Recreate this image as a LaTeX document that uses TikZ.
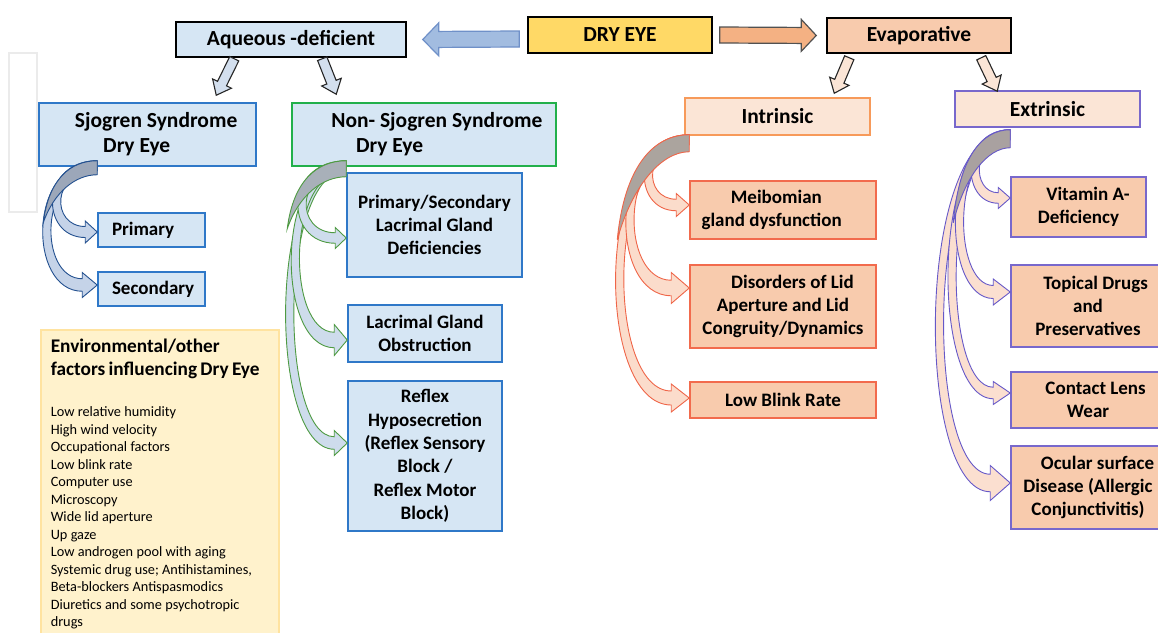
\documentclass[tikz,border=0pt]{standalone}
\usepackage{fontspec}
\setmainfont{Carlito}
\usetikzlibrary{calc}
\definecolor{bluefill}{HTML}{D6E6F4}
\definecolor{blueedge}{HTML}{2F78C8}
\definecolor{greenedge}{HTML}{22B04B}
\definecolor{goldfill}{HTML}{FFD966}
\definecolor{salmonfill}{HTML}{F8CBAD}
\definecolor{peachfill}{HTML}{FBE5D6}
\definecolor{orangeedge}{HTML}{F79A5A}
\definecolor{rededge}{HTML}{F26B4D}
\definecolor{purpleedge}{HTML}{7868CC}
\definecolor{envfill}{HTML}{FFF2CC}
\definecolor{envedge}{HTML}{FFE3A0}
\definecolor{arrowblue}{HTML}{A2BCE0}
\definecolor{arrowblueedge}{HTML}{6F90C8}
\definecolor{arrowsalmon}{HTML}{F4B183}
\definecolor{darkedge}{HTML}{262626}
\definecolor{downblue}{HTML}{D3DFEE}
\definecolor{sjofill}{HTML}{C5D3E8}
\definecolor{sjoline}{HTML}{23508F}
\definecolor{nsjfill}{HTML}{CEDCEC}
\definecolor{nsjline}{HTML}{4E9A42}
\definecolor{intrfill}{HTML}{FBDCCB}
\definecolor{intrline}{HTML}{EF6548}
\definecolor{extrfill}{HTML}{FBDFD0}
\definecolor{extrline}{HTML}{6658C8}
\definecolor{sjoback}{HTML}{9CA7B9}
\definecolor{nsjback}{HTML}{A8B0B9}
\definecolor{intrback}{HTML}{ABA49E}
\definecolor{extrback}{HTML}{A9A1A0}

% straight block arrow: [style]{tail}{tip}{shaft half}{head half}{head length}
\newcommand{\blockarrow}[6][]{%
  \path[#1] let \p1=(#2), \p2=(#3), \n1={atan2(\y2-\y1,\x2-\x1)}, \n2={veclen(\x2-\x1,\y2-\y1)-#6} in
    ($(\p1)+({\n1+90}:#4pt)$) -- ($(\p1)+(\n1:{\n2*1pt})+({\n1+90}:#4pt)$)
    -- ($(\p1)+(\n1:{\n2*1pt})+({\n1+90}:#5pt)$) -- (\p2)
    -- ($(\p1)+(\n1:{\n2*1pt})+({\n1-90}:#5pt)$) -- ($(\p1)+(\n1:{\n2*1pt})+({\n1-90}:#4pt)$)
    -- ($(\p1)+({\n1-90}:#4pt)$) -- cycle;}
% curved block arrow: [style]{root}{tip}{reach}{head half}{head length}
\newcommand{\bendarrow}[6][]{%
  \path[#1] let \p1=(#2), \p2=(#3), \n1={\x1-1.25*#4pt}, \n2={0.5*#5pt} in
    (\p1) .. controls ({\n1*1pt},\y1) and ({\n1*1pt},{\y2-\n2*1pt}) .. ({\x2-#6pt},{\y2-\n2*1pt})
    -- ({\x2-#6pt},{\y2-#5pt}) -- (\p2) -- ({\x2-#6pt},{\y2+#5pt}) -- ({\x2-#6pt},{\y2+\n2*1pt})
    .. controls ({\n1*1pt+11pt},{\y2+\n2*1pt}) and ({\n1*1pt+11pt},{\y1-10pt}) .. ($(\p1)+(0pt,-10pt)$) -- cycle;}
% shaded back of the curved arrows: [style]{root}{dx}{dy}{thickness}
\newcommand{\backface}[5][]{%
  \path[#1] let \p1=(#2) in
    (\p1) .. controls ({\x1-0.5*#3pt},\y1) and ({\x1-0.9*#3pt},{\y1-0.3*#4pt}) .. ({\x1-#3pt},{\y1-#4pt})
    .. controls ({\x1-0.8*#3pt},{\y1-0.5*#4pt}) and ({\x1-0.4*#3pt},{\y1-#5pt}) .. ($(\p1)+(0pt,-#5pt)$) -- cycle;}

\tikzset{
  box/.style={draw, line width=1.5pt, align=center, inner sep=2pt,
    font=\bfseries\fontsize{19}{23.3}\selectfont},
  headbox/.style={box, font=\bfseries\fontsize{21.5}{25}\selectfont},
  bluebox/.style={box, fill=bluefill, draw=blueedge},
  leftbox/.style={bluebox, minimum width=107pt, minimum height=34pt, text width=79pt, align=left, inner xsep=14pt},
  redbox/.style={box, fill=salmonfill, draw=rededge, minimum width=186pt},
  purplebox/.style={box, fill=salmonfill, draw=purpleedge, minimum width=154pt},
  envbox/.style={draw=envedge, fill=envfill, line width=1.5pt, anchor=north west, text width=218pt,
    align=left, inner xsep=10pt, inner ysep=9pt},
  ghost/.style={draw=black!8, line width=1.5pt},
  bigblue/.style={fill=arrowblue, draw=arrowblueedge, line width=1.2pt},
  bigsalmon/.style={fill=arrowsalmon, draw=darkedge!80, line width=1.2pt},
  downblue/.style={fill=downblue, draw=darkedge, line width=1.1pt},
  downpeach/.style={fill=peachfill, draw=darkedge, line width=1.1pt},
  sjoband/.style={fill=sjofill, draw=sjoline, line width=0.9pt},
  nsjband/.style={fill=nsjfill, draw=nsjline, line width=0.9pt},
  intrband/.style={fill=intrfill, draw=intrline, line width=0.9pt},
  extrband/.style={fill=extrfill, draw=extrline, line width=0.9pt}
}

\begin{document}
\begin{tikzpicture}[x=1pt, y=-1pt]
    \useasboundingbox (0,0) rectangle (1158,632);
    % Nodes
    \draw[ghost] (9,53) rectangle (37,212);
    \node[headbox, fill=bluefill, minimum width=230pt, minimum height=35pt] (aq) at (291,39.5) {Aqueous -deficient};
    \node[headbox, fill=goldfill, minimum width=184pt, minimum height=36pt] (dry) at (620,35) {DRY EYE};
    \node[headbox, fill=salmonfill, minimum width=184pt, minimum height=35pt] (evap) at (919,35.5) {Evaporative};
    \node[headbox, fill=bluefill, draw=blueedge, minimum width=217pt, minimum height=63pt] (sjo) at (147.5,134.5)
        {\hspace*{0.8em}Sjogren Syndrome\\Dry Eye\hspace*{1em}};
    \node[headbox, fill=bluefill, draw=greenedge, minimum width=264pt, minimum height=63pt] (nsj) at (424,134.5)
        {\hspace*{1.2em}Non- Sjogren Syndrome\\Dry Eye\hspace*{3.2em}};
    \node[leftbox] (prim) at (151.5,230) {Primary};
    \node[leftbox] (sec) at (151.5,289) {Secondary};
    \node[bluebox, minimum width=175pt, minimum height=104pt] (psl) at (434.5,225) {Primary/Secondary\\Lacrimal Gland\\Deficiencies};
    \node[bluebox, minimum width=154pt, minimum height=57pt] (lgo) at (425,333.5) {Lacrimal Gland\\Obstruction};
    \node[bluebox, minimum width=154pt, minimum height=150pt] (refl) at (425,456)
        {Reflex\\Hyposecretion\\(Reflex Sensory\\Block /\\Reflex Motor\\Block)};
    \node[headbox, fill=peachfill, draw=orangeedge, minimum width=185pt, minimum height=37pt] (intr) at (777.5,116.5) {Intrinsic};
    \node[headbox, fill=peachfill, draw=purpleedge, minimum width=185pt, minimum height=36pt] (extr) at (1047.5,109) {Extrinsic};
    \node[redbox, minimum height=58pt] (meib) at (783,210) {Meibomian\hspace*{0.7em}\\gland dysfunction\hspace*{1.2em}};
    \node[redbox, minimum height=83pt] (dis) at (783,306.5) {\hspace*{1em}Disorders of Lid\\Aperture and Lid\hspace*{1.5em}\\Congruity/Dynamics};
    \node[redbox, minimum height=36pt] (lbr) at (783,400) {Low Blink Rate};
    \node[purplebox, minimum width=135pt, minimum height=60pt] (vit) at (1078.5,207) {\hspace*{1em}Vitamin A-\\Deficiency};
    \node[purplebox, minimum height=82pt] (topd) at (1088,306) {\hspace*{0.8em}Topical Drugs\\and\\Preservatives};
    \node[purplebox, minimum height=56pt] (cl) at (1088,400) {\hspace*{0.8em}Contact Lens\\Wear};
    \node[purplebox, minimum height=83pt] (ocu) at (1088,487.5) {\hspace*{1em}Ocular surface\\Disease (Allergic\\Conjunctivitis)};
    \node[envbox] (env) at (40,329) {%
        {\bfseries\fontsize{19.3}{23}\selectfont Environmental/other\\factors influencing Dry Eye\par}
        \vspace{24pt}
        {\fontsize{14.3}{17.5}\selectfont Low relative humidity\\High wind velocity\\Occupational factors\\
        Low blink rate\\Computer use\\Microscopy\\Wide lid aperture\\Up gaze\\Low androgen pool with aging\\
        Systemic drug use; Antihistamines,\\Beta-blockers Antispasmodics\\Diuretics and some psychotropic\\drugs\par}};
    % Arrows
    \blockarrow[bigblue]{$(dry.west)+(-8,4)$}{$(aq.east)+(16,0)$}{8}{16.5}{16}
    \blockarrow[bigsalmon]{$(dry.east)+(7,0)$}{$(evap.west)+(-10,0)$}{8}{16}{15}
    \blockarrow[downblue]{$(aq.south west)+(59,1)$}{$(sjo.north west)+(178,-7)$}{5}{10.5}{13}
    \blockarrow[downblue]{$(aq.south west)+(147,1)$}{$(nsj.north west)+(45,-8)$}{5}{10.5}{13}
    \blockarrow[downpeach]{$(evap.south west)+(23,4)$}{$(intr.north west)+(150,-4)$}{5}{10.5}{13}
    \blockarrow[downpeach]{$(evap.south west)+(155,4)$}{$(extr.north west)+(43,1)$}{5}{10.5}{13}
    % Curved arrows
    \coordinate (sjoroot) at ($(prim.west |- sjo.south)+(0,-6)$);
    \bendarrow[sjoband]{sjoroot}{$(sec.west)+(0,-4)$}{56}{12.5}{15}
    \bendarrow[sjoband]{sjoroot}{$(prim.west)+(0,2)$}{46}{11}{12}
    \backface[sjoband, fill=sjoback]{sjoroot}{54}{62}{14}
    \coordinate (nsjroot) at ($(psl.west |- nsj.south)+(0,-6)$);
    \bendarrow[nsjband]{nsjroot}{$(refl.west)+(0,-13)$}{63}{12.5}{13}
    \bendarrow[nsjband]{nsjroot}{$(lgo.west)+(0,6.5)$}{57}{15.5}{13}
    \bendarrow[nsjband]{nsjroot}{$(psl.west)+(0,13)$}{50}{10.5}{11}
    \backface[nsjband, fill=nsjback]{nsjroot}{59}{68}{16}
    \coordinate (introot) at ($(meib.west |- intr.south)+(0,-1)$);
    \bendarrow[intrband]{introot}{$(lbr.west)+(0,-2)$}{76}{14}{18}
    \bendarrow[intrband]{introot}{$(dis.west)+(0,-18.5)$}{65}{15.5}{18}
    \bendarrow[intrband]{introot}{$(meib.west)+(0,-5)$}{46}{11.5}{13}
    \backface[intrband, fill=intrback]{introot}{72}{105}{17}
    \coordinate (extroot) at ($(vit.west |- extr.south)+(0,2)$);
    \bendarrow[extrband]{extroot}{$(ocu.west)+(0,-4.5)$}{77}{17.5}{20}
    \bendarrow[extrband]{extroot}{$(cl.west)+(0,-7)$}{64}{11.5}{17}
    \bendarrow[extrband]{extroot}{$(topd.west)+(0,-14)$}{56}{13}{17}
    \bendarrow[extrband]{extroot}{$(vit.west)+(0,-9)$}{40}{10.5}{12}
    \backface[extrband, fill=extrback]{extroot}{57}{93}{18}
\end{tikzpicture}
\end{document}
